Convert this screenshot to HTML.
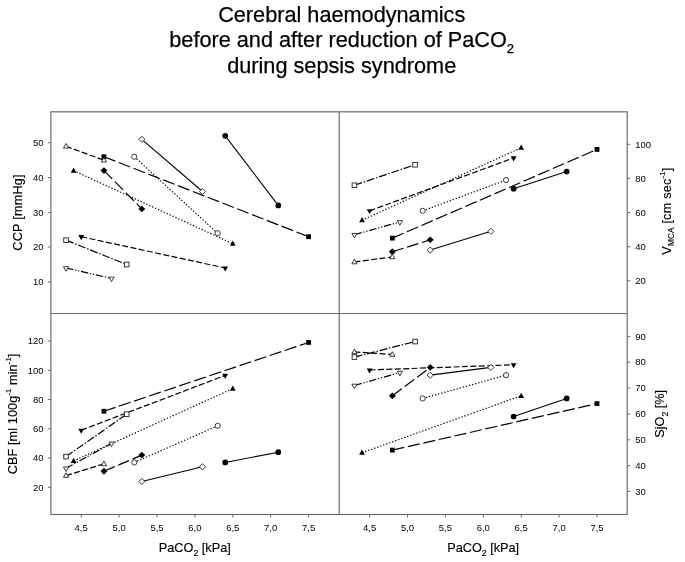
<!DOCTYPE html>
<html lang="en"><head><meta charset="utf-8"><title>Cerebral haemodynamics</title>
<style>html,body{margin:0;padding:0;background:#fff}svg{display:block}text{font-family:"Liberation Sans",Arial,Helvetica,sans-serif;fill:#000}.t{font-size:21.7px;stroke:#000;stroke-width:.25px}.k{font-size:9.5px;fill:#111}.a{font-size:12.7px;stroke:#000;stroke-width:.15px}</style></head><body>
<svg width="685" height="562" viewBox="0 0 685 562">
<rect width="685" height="562" fill="#fff"/>
<g class="t" text-anchor="middle"><text x="341.7" y="21.5">Cerebral haemodynamics</text>
<text x="341.7" y="47">before and after reduction of PaCO<tspan font-size="13" dy="5.5">2</tspan></text>
<text x="341.7" y="73.2">during sepsis syndrome</text></g>
<g stroke="#6c6c6c" stroke-width="1.2" fill="none">
<rect x="50.9" y="111.8" width="576.3" height="402.7"/>
<path d="M339.2 111.8V514.5M50.9 313.5H627.2"/>
<path stroke-width="1" d="M47.9 142.8H50.9M47.9 177.6H50.9M47.9 212.4H50.9M47.9 247.1H50.9M47.9 281.9H50.9M47.9 341.0H50.9M47.9 370.3H50.9M47.9 399.5H50.9M47.9 428.8H50.9M47.9 458.0H50.9M47.9 487.3H50.9M627.2 144.3H630.2M627.2 178.4H630.2M627.2 212.5H630.2M627.2 246.7H630.2M627.2 280.8H630.2M627.2 336.4H630.2M627.2 362.2H630.2M627.2 388.1H630.2M627.2 413.9H630.2M627.2 439.8H630.2M627.2 465.6H630.2M627.2 491.4H630.2M81.2 514.5V517.5M369.6 514.5V517.5M119.1 514.5V517.5M407.5 514.5V517.5M157.0 514.5V517.5M445.4 514.5V517.5M194.9 514.5V517.5M483.3 514.5V517.5M232.8 514.5V517.5M521.2 514.5V517.5M270.7 514.5V517.5M559.1 514.5V517.5M308.6 514.5V517.5M597.0 514.5V517.5"/>
</g>
<g class="k" text-anchor="end">
<text x="43.6" y="146.0">50</text>
<text x="43.6" y="180.8">40</text>
<text x="43.6" y="215.6">30</text>
<text x="43.6" y="250.3">20</text>
<text x="43.6" y="285.1">10</text>
<text x="43.6" y="344.2">120</text>
<text x="43.6" y="373.5">100</text>
<text x="43.6" y="402.7">80</text>
<text x="43.6" y="432.0">60</text>
<text x="43.6" y="461.2">40</text>
<text x="43.6" y="490.5">20</text>
</g><g class="k">
<text x="635.3" y="147.5">100</text>
<text x="635.3" y="181.6">80</text>
<text x="635.3" y="215.7">60</text>
<text x="635.3" y="249.9">40</text>
<text x="635.3" y="284.0">20</text>
<text x="635.3" y="339.6">90</text>
<text x="635.3" y="365.4">80</text>
<text x="635.3" y="391.3">70</text>
<text x="635.3" y="417.1">60</text>
<text x="635.3" y="443.0">50</text>
<text x="635.3" y="468.8">40</text>
<text x="635.3" y="494.6">30</text>
</g><g class="k" text-anchor="middle">
<text x="81.2" y="531.2">4,5</text>
<text x="369.6" y="531.2">4,5</text>
<text x="119.1" y="531.2">5,0</text>
<text x="407.5" y="531.2">5,0</text>
<text x="157.0" y="531.2">5,5</text>
<text x="445.4" y="531.2">5,5</text>
<text x="194.9" y="531.2">6,0</text>
<text x="483.3" y="531.2">6,0</text>
<text x="232.8" y="531.2">6,5</text>
<text x="521.2" y="531.2">6,5</text>
<text x="270.7" y="531.2">7,0</text>
<text x="559.1" y="531.2">7,0</text>
<text x="308.6" y="531.2">7,5</text>
<text x="597.0" y="531.2">7,5</text>
</g>
<g class="a" text-anchor="middle">
<text x="194.8" y="552.1">PaCO<tspan font-size="8.8" dy="3.8">2</tspan><tspan dy="-3.8"> [kPa]</tspan></text>
<text x="483.2" y="552.1">PaCO<tspan font-size="8.8" dy="3.8">2</tspan><tspan dy="-3.8"> [kPa]</tspan></text>
<text transform="translate(22.3 212.4) rotate(-90)" letter-spacing="0.2">CCP [mmHg]</text>
<text transform="translate(17.4 414) rotate(-90)" letter-spacing="0.1">CBF [ml 100g<tspan font-size="7.6" dy="-6.3">-1</tspan><tspan dy="6.3"> min</tspan><tspan font-size="7.6" dy="-6.3">-1</tspan><tspan dy="6.3">]</tspan></text>
<text transform="translate(670.8 211.2) rotate(-90)" letter-spacing="0.2">V<tspan font-size="8.2" dy="3.6">MCA</tspan><tspan dy="-3.6"> [cm sec</tspan><tspan font-size="7.6" dy="-6.3">-1</tspan><tspan dy="6.3">]</tspan></text>
<text transform="translate(664 413.8) rotate(-90)">SjO<tspan font-size="8.8" dy="3.8">2</tspan><tspan dy="-3.8"> [%]</tspan></text>
</g>
<g stroke="#000" stroke-width="1.2" fill="none">
<path d="M225.22 135.84L278.28 205.40" stroke-width="1.1"/>
<path d="M134.26 156.71L217.64 233.23" stroke-dasharray="1.3 1.9"/>
<path d="M81.20 236.71L225.22 268.01" stroke-dasharray="6 2.4"/>
<path d="M66.04 268.01L111.52 278.44" stroke-dasharray="7.5 1.8 1.2 1.8 1.2 1.8"/>
<path d="M103.94 156.71L308.60 236.71" stroke-dasharray="12.2 3.7"/>
<path d="M66.04 240.18L126.68 264.53" stroke-dasharray="8 1.8 1.4 1.8"/>
<path d="M103.94 170.62L141.84 208.88" stroke-dasharray="11.7 3.8"/>
<path d="M141.84 139.32L202.48 191.49" stroke-width="1.1"/>
<path d="M73.62 170.62L232.80 243.66" stroke-dasharray="1.3 1.9"/>
<path d="M66.04 146.28L103.94 160.19" stroke-dasharray="6 2.4"/>
</g><g>
<circle cx="225.22" cy="135.84" r="2.85" fill="#000"/>
<circle cx="278.28" cy="205.40" r="2.85" fill="#000"/>
<circle cx="134.26" cy="156.71" r="2.6" fill="#fff" stroke="#222" stroke-width="0.9"/>
<circle cx="217.64" cy="233.23" r="2.6" fill="#fff" stroke="#222" stroke-width="0.9"/>
<path d="M81.20 240.21L84.10 235.11L78.30 235.11Z" fill="#000"/>
<path d="M225.22 271.51L228.12 266.41L222.32 266.41Z" fill="#000"/>
<path d="M66.04 271.21L68.64 266.71L63.44 266.71Z" fill="#fff" stroke="#222" stroke-width="0.9"/>
<path d="M111.52 281.64L114.12 277.14L108.92 277.14Z" fill="#fff" stroke="#222" stroke-width="0.9"/>
<rect x="101.54" y="154.31" width="4.8" height="4.8" fill="#000"/>
<rect x="306.20" y="234.31" width="4.8" height="4.8" fill="#000"/>
<rect x="63.74" y="237.88" width="4.6" height="4.6" fill="#fff" stroke="#222" stroke-width="0.9"/>
<rect x="124.38" y="262.23" width="4.6" height="4.6" fill="#fff" stroke="#222" stroke-width="0.9"/>
<path d="M103.94 167.17L107.39 170.62L103.94 174.07L100.49 170.62Z" fill="#000"/>
<path d="M141.84 205.43L145.29 208.88L141.84 212.33L138.39 208.88Z" fill="#000"/>
<path d="M141.84 136.22L144.94 139.32L141.84 142.42L138.74 139.32Z" fill="#fff" stroke="#222" stroke-width="0.9"/>
<path d="M202.48 188.39L205.58 191.49L202.48 194.59L199.38 191.49Z" fill="#fff" stroke="#222" stroke-width="0.9"/>
<path d="M73.62 167.52L76.52 172.72L70.72 172.72Z" fill="#000"/>
<path d="M232.80 240.56L235.70 245.76L229.90 245.76Z" fill="#000"/>
<path d="M66.04 143.48L68.64 148.08L63.44 148.08Z" fill="#fff" stroke="#222" stroke-width="0.9"/>
<path d="M103.94 157.39L106.54 161.99L101.34 161.99Z" fill="#fff" stroke="#222" stroke-width="0.9"/>
</g>
<g stroke="#000" stroke-width="1.2" fill="none">
<path d="M513.62 188.66L566.68 171.60" stroke-width="1.1"/>
<path d="M422.66 210.83L506.04 180.13" stroke-dasharray="1.3 1.9"/>
<path d="M369.60 210.83L513.62 157.95" stroke-dasharray="6 2.4"/>
<path d="M354.44 234.72L399.92 221.92" stroke-dasharray="7.5 1.8 1.2 1.8 1.2 1.8"/>
<path d="M392.34 238.13L597.00 149.42" stroke-dasharray="12.2 3.7"/>
<path d="M354.44 185.24L415.08 164.77" stroke-dasharray="8 1.8 1.4 1.8"/>
<path d="M392.34 251.78L430.24 239.84" stroke-dasharray="11.7 3.8"/>
<path d="M430.24 250.07L490.88 231.31" stroke-width="1.1"/>
<path d="M362.02 220.22L521.20 147.71" stroke-dasharray="1.3 1.9"/>
<path d="M354.44 262.01L392.34 256.90" stroke-dasharray="6 2.4"/>
</g><g>
<circle cx="513.62" cy="188.66" r="2.85" fill="#000"/>
<circle cx="566.68" cy="171.60" r="2.85" fill="#000"/>
<circle cx="422.66" cy="210.83" r="2.6" fill="#fff" stroke="#222" stroke-width="0.9"/>
<circle cx="506.04" cy="180.13" r="2.6" fill="#fff" stroke="#222" stroke-width="0.9"/>
<path d="M369.60 214.33L372.50 209.23L366.70 209.23Z" fill="#000"/>
<path d="M513.62 161.45L516.52 156.35L510.72 156.35Z" fill="#000"/>
<path d="M354.44 237.92L357.04 233.42L351.84 233.42Z" fill="#fff" stroke="#222" stroke-width="0.9"/>
<path d="M399.92 225.12L402.52 220.62L397.32 220.62Z" fill="#fff" stroke="#222" stroke-width="0.9"/>
<rect x="389.94" y="235.73" width="4.8" height="4.8" fill="#000"/>
<rect x="594.60" y="147.02" width="4.8" height="4.8" fill="#000"/>
<rect x="352.14" y="182.94" width="4.6" height="4.6" fill="#fff" stroke="#222" stroke-width="0.9"/>
<rect x="412.78" y="162.47" width="4.6" height="4.6" fill="#fff" stroke="#222" stroke-width="0.9"/>
<path d="M392.34 248.33L395.79 251.78L392.34 255.23L388.89 251.78Z" fill="#000"/>
<path d="M430.24 236.39L433.69 239.84L430.24 243.29L426.79 239.84Z" fill="#000"/>
<path d="M430.24 246.97L433.34 250.07L430.24 253.17L427.14 250.07Z" fill="#fff" stroke="#222" stroke-width="0.9"/>
<path d="M490.88 228.21L493.98 231.31L490.88 234.41L487.78 231.31Z" fill="#fff" stroke="#222" stroke-width="0.9"/>
<path d="M362.02 217.12L364.92 222.32L359.12 222.32Z" fill="#000"/>
<path d="M521.20 144.61L524.10 149.81L518.30 149.81Z" fill="#000"/>
<path d="M354.44 259.21L357.04 263.81L351.84 263.81Z" fill="#fff" stroke="#222" stroke-width="0.9"/>
<path d="M392.34 254.10L394.94 258.70L389.74 258.70Z" fill="#fff" stroke="#222" stroke-width="0.9"/>
</g>
<g stroke="#000" stroke-width="1.2" fill="none">
<path d="M225.22 462.43L278.28 452.19" stroke-width="1.1"/>
<path d="M134.26 462.43L217.64 425.85" stroke-dasharray="1.3 1.9"/>
<path d="M81.20 430.24L225.22 375.38" stroke-dasharray="6 2.4"/>
<path d="M66.04 468.28L111.52 443.41" stroke-dasharray="7.5 1.8 1.2 1.8 1.2 1.8"/>
<path d="M103.94 411.22L308.60 342.46" stroke-dasharray="12.2 3.7"/>
<path d="M66.04 456.58L126.68 414.15" stroke-dasharray="8 1.8 1.4 1.8"/>
<path d="M103.94 471.21L141.84 455.11" stroke-dasharray="11.7 3.8"/>
<path d="M141.84 481.45L202.48 466.82" stroke-width="1.1"/>
<path d="M73.62 460.97L232.80 388.55" stroke-dasharray="1.3 1.9"/>
<path d="M66.04 475.60L103.94 463.89" stroke-dasharray="6 2.4"/>
</g><g>
<circle cx="225.22" cy="462.43" r="2.85" fill="#000"/>
<circle cx="278.28" cy="452.19" r="2.85" fill="#000"/>
<circle cx="134.26" cy="462.43" r="2.6" fill="#fff" stroke="#222" stroke-width="0.9"/>
<circle cx="217.64" cy="425.85" r="2.6" fill="#fff" stroke="#222" stroke-width="0.9"/>
<path d="M81.20 433.74L84.10 428.64L78.30 428.64Z" fill="#000"/>
<path d="M225.22 378.88L228.12 373.78L222.32 373.78Z" fill="#000"/>
<path d="M66.04 471.48L68.64 466.98L63.44 466.98Z" fill="#fff" stroke="#222" stroke-width="0.9"/>
<path d="M111.52 446.61L114.12 442.11L108.92 442.11Z" fill="#fff" stroke="#222" stroke-width="0.9"/>
<rect x="101.54" y="408.82" width="4.8" height="4.8" fill="#000"/>
<rect x="306.20" y="340.06" width="4.8" height="4.8" fill="#000"/>
<rect x="63.74" y="454.28" width="4.6" height="4.6" fill="#fff" stroke="#222" stroke-width="0.9"/>
<rect x="124.38" y="411.85" width="4.6" height="4.6" fill="#fff" stroke="#222" stroke-width="0.9"/>
<path d="M103.94 467.76L107.39 471.21L103.94 474.66L100.49 471.21Z" fill="#000"/>
<path d="M141.84 451.66L145.29 455.11L141.84 458.56L138.39 455.11Z" fill="#000"/>
<path d="M141.84 478.35L144.94 481.45L141.84 484.55L138.74 481.45Z" fill="#fff" stroke="#222" stroke-width="0.9"/>
<path d="M202.48 463.72L205.58 466.82L202.48 469.92L199.38 466.82Z" fill="#fff" stroke="#222" stroke-width="0.9"/>
<path d="M73.62 457.87L76.52 463.07L70.72 463.07Z" fill="#000"/>
<path d="M232.80 385.45L235.70 390.65L229.90 390.65Z" fill="#000"/>
<path d="M66.04 472.80L68.64 477.40L63.44 477.40Z" fill="#fff" stroke="#222" stroke-width="0.9"/>
<path d="M103.94 461.09L106.54 465.69L101.34 465.69Z" fill="#fff" stroke="#222" stroke-width="0.9"/>
</g>
<g stroke="#000" stroke-width="1.2" fill="none">
<path d="M513.62 416.50L566.68 398.42" stroke-width="1.1"/>
<path d="M422.66 398.42L506.04 375.16" stroke-dasharray="1.3 1.9"/>
<path d="M369.60 369.99L513.62 364.82" stroke-dasharray="6 2.4"/>
<path d="M354.44 385.50L399.92 372.58" stroke-dasharray="7.5 1.8 1.2 1.8 1.2 1.8"/>
<path d="M392.34 450.10L597.00 403.58" stroke-dasharray="12.2 3.7"/>
<path d="M354.44 357.07L415.08 341.57" stroke-dasharray="8 1.8 1.4 1.8"/>
<path d="M392.34 395.83L430.24 367.41" stroke-dasharray="11.7 3.8"/>
<path d="M430.24 375.16L490.88 367.41" stroke-width="1.1"/>
<path d="M362.02 452.68L521.20 395.83" stroke-dasharray="1.3 1.9"/>
<path d="M354.44 351.90L392.34 354.49" stroke-dasharray="6 2.4"/>
</g><g>
<circle cx="513.62" cy="416.50" r="2.85" fill="#000"/>
<circle cx="566.68" cy="398.42" r="2.85" fill="#000"/>
<circle cx="422.66" cy="398.42" r="2.6" fill="#fff" stroke="#222" stroke-width="0.9"/>
<circle cx="506.04" cy="375.16" r="2.6" fill="#fff" stroke="#222" stroke-width="0.9"/>
<path d="M369.60 373.49L372.50 368.39L366.70 368.39Z" fill="#000"/>
<path d="M513.62 368.32L516.52 363.22L510.72 363.22Z" fill="#000"/>
<path d="M354.44 388.70L357.04 384.20L351.84 384.20Z" fill="#fff" stroke="#222" stroke-width="0.9"/>
<path d="M399.92 375.78L402.52 371.28L397.32 371.28Z" fill="#fff" stroke="#222" stroke-width="0.9"/>
<rect x="389.94" y="447.70" width="4.8" height="4.8" fill="#000"/>
<rect x="594.60" y="401.18" width="4.8" height="4.8" fill="#000"/>
<rect x="352.14" y="354.77" width="4.6" height="4.6" fill="#fff" stroke="#222" stroke-width="0.9"/>
<rect x="412.78" y="339.27" width="4.6" height="4.6" fill="#fff" stroke="#222" stroke-width="0.9"/>
<path d="M392.34 392.38L395.79 395.83L392.34 399.28L388.89 395.83Z" fill="#000"/>
<path d="M430.24 363.96L433.69 367.41L430.24 370.86L426.79 367.41Z" fill="#000"/>
<path d="M430.24 372.06L433.34 375.16L430.24 378.26L427.14 375.16Z" fill="#fff" stroke="#222" stroke-width="0.9"/>
<path d="M490.88 364.31L493.98 367.41L490.88 370.51L487.78 367.41Z" fill="#fff" stroke="#222" stroke-width="0.9"/>
<path d="M362.02 449.58L364.92 454.78L359.12 454.78Z" fill="#000"/>
<path d="M521.20 392.73L524.10 397.93L518.30 397.93Z" fill="#000"/>
<path d="M354.44 349.10L357.04 353.70L351.84 353.70Z" fill="#fff" stroke="#222" stroke-width="0.9"/>
<path d="M392.34 351.69L394.94 356.29L389.74 356.29Z" fill="#fff" stroke="#222" stroke-width="0.9"/>
</g>
</svg></body></html>
